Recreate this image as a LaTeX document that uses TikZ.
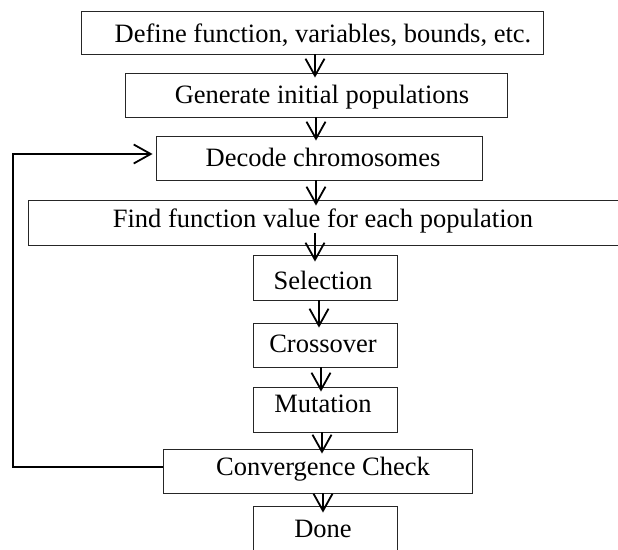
\documentclass[tikz,border=0pt]{standalone}
\usepackage{fontspec}
\setmainfont{Liberation Serif}
\usetikzlibrary{arrows.meta}
\tikzset{
  stepbox/.style={draw=black!85, line width=0.9pt, inner sep=0pt},
  steptext/.style={font=\fontsize{26.5}{30}\selectfont, inner sep=0pt, anchor=base},
  arr/.style={line width=1.8pt, -{Straight Barb[length=17pt,width=19pt,line width=1.8pt]}},
  loopline/.style={line width=2pt}
}
\begin{document}
\begin{tikzpicture}[x=1pt,y=-1pt]
\useasboundingbox (0,0) rectangle (618,549);
% boxes
\node[stepbox, minimum width=462pt, minimum height=43pt] (b1) at (312,32.5) {};
\node[stepbox, minimum width=382pt, minimum height=44pt] (b2) at (316,95) {};
\node[stepbox, minimum width=326pt, minimum height=44pt] (b3) at (319,158) {};
\node[stepbox, minimum width=597pt, minimum height=45pt] (b4) at (326.5,222.5) {};
\node[stepbox, minimum width=144pt, minimum height=45pt] (b5) at (325,277.5) {};
\node[stepbox, minimum width=144pt, minimum height=44pt] (b6) at (325,345) {};
\node[stepbox, minimum width=144pt, minimum height=45pt] (b7) at (325,409.5) {};
\node[stepbox, minimum width=309pt, minimum height=44pt] (b8) at (317.5,471) {};
\node[stepbox, minimum width=144pt, minimum height=54pt] (b9) at (325,533) {};
% texts
\node[steptext] (t1) at (323,42) {Define function, variables, bounds, etc.};
\node[steptext] (t2) at (322,103) {Generate initial populations};
\node[steptext] (t3) at (323,166) {Decode chromosomes};
\node[steptext] (t4) at (323,227) {Find function value for each population};
\node[steptext] (t5) at (323,289) {Selection};
\node[steptext] (t6) at (323,352) {Crossover};
\node[steptext] (t7) at (323,412) {Mutation};
\node[steptext] (t8) at (323,475) {Convergence Check};
\node[steptext] (t9) at (323,537) {Done};
% connectors (yshift is in page direction: negative = downwards)
\draw[arr] (b1.south -| 315,0) -- ([yshift=-5pt]b2.north -| 315,0);
\draw[arr] (b2.south -| 316,0) -- ([yshift=-5pt]b3.north -| 316,0);
\draw[arr] (b3.south -| 316,0) -- ([yshift=-6pt]b4.north -| 316,0);
\draw[arr] (t4.south -| 315,0) -- ([yshift=-7pt]b5.north -| 315,0);
\draw[arr] (b5.south -| 319,0) -- ([yshift=-5pt]b6.north -| 319,0);
\draw[arr] (b6.south -| 321,0) -- ([yshift=-5pt]b7.north -| 321,0);
\draw[arr] (b7.south -| 322,0) -- ([yshift=-5pt]b8.north -| 322,0);
\draw[arr] (b8.south -| 323,0) -- ([yshift=-7pt]b9.north -| 323,0);
% feedback loop
\coordinate (c1) at (13,467);
\coordinate (c2) at (13,154);
\draw[loopline] (b8.west |- c1) -- (c1) -- (c2) -- ([xshift=-6pt]b3.west |- c2);
\draw[arr, line width=2pt] ([xshift=-30pt]b3.west |- c2) -- ([xshift=-3pt]b3.west |- c2);
\end{tikzpicture}
\end{document}
